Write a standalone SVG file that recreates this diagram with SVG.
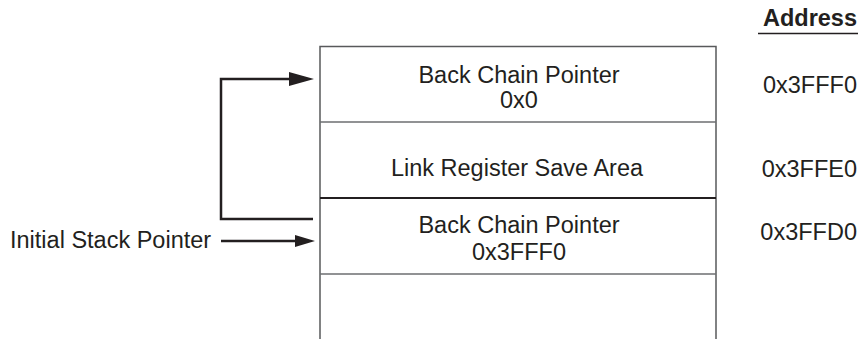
<svg xmlns="http://www.w3.org/2000/svg" width="863" height="339" viewBox="0 0 863 339">
<style>
text{font-family:"Liberation Sans",Arial,sans-serif;font-size:23.5px;fill:#231f20}
.c{text-anchor:middle}
.r{text-anchor:end}
.b{font-weight:bold}
.box{fill:none;stroke:#58595b;stroke-width:1.5}
.thin{stroke:#6d6e71;stroke-width:1.5}
.thick{stroke:#231f20;stroke-width:2.2}
.conn{fill:none;stroke:#231f20;stroke-width:2.5}
</style>
<rect width="863" height="339" fill="#fff"/>
<g id="stack">
<path class="box" d="M320,339 V46.5 H716 V339"/>
<line class="thin" x1="320" y1="122" x2="716" y2="122"/>
<line class="thick" x1="320" y1="198" x2="716" y2="198"/>
<line class="thin" x1="320" y1="274" x2="716" y2="274"/>
</g>
<g id="frame1">
<text class="c" x="519" y="83">Back Chain Pointer</text>
<text class="c" x="519" y="108">0x0</text>
</g>
<g id="lr">
<text class="c" x="517" y="176">Link Register Save Area</text>
</g>
<g id="frame2">
<text class="c" x="519" y="233">Back Chain Pointer</text>
<text class="c" x="519" y="260">0x3FFF0</text>
</g>
<g id="addresses">
<text class="r b" x="857" y="26">Address</text>
<line x1="758" y1="33.5" x2="858" y2="33.5" stroke="#231f20" stroke-width="1.5"/>
<text class="r" x="857" y="93">0x3FFF0</text>
<text class="r" x="857" y="177">0x3FFE0</text>
<text class="r" x="857" y="240">0x3FFD0</text>
</g>
<g id="isp">
<text x="10" y="248">Initial Stack Pointer</text>
</g>
<g id="connectors">
<path class="conn" d="M313,219 H221 V79 H290"/>
<path d="M289,72 L314,79 L289,86 Z" fill="#231f20"/>
<line class="conn" x1="221" y1="241" x2="296" y2="241"/>
<path d="M295,235 L315,241 L295,247 Z" fill="#231f20"/>
</g>
</svg>
